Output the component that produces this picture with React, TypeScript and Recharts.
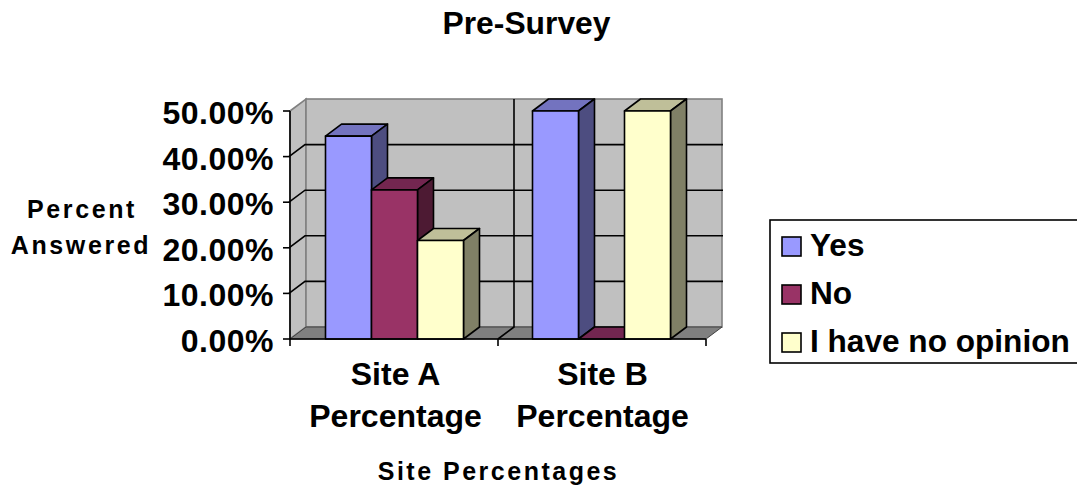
import { BarChart, Bar, XAxis, YAxis, ReferenceArea, ReferenceLine } from "recharts";

const categories = ["Site A Percentage", "Site B Percentage"];
const yesValues = [44.5, 50];
const noValues = [32.7, 0];
const opinionValues = [21.6, 50];
const yTicks = [0, 10, 20, 30, 40, 50];
const gridTicks = [10, 20, 30, 40];

const seriesNames = ["Yes", "No", "I have no opinion"];
const FONT = '"Liberation Sans", Arial, sans-serif';

// faux 3D depth of the box and bars
const DX = 16;
const DY = 12;

const palette: Record<string, { front: string; top: string; side: string }> = {
  Yes: { front: "#9999FF", top: "#7373BF", side: "#4D4D80" },
  No: { front: "#993366", top: "#732650", side: "#4D1A33" },
  "I have no opinion": { front: "#FFFFCC", top: "#BFBF99", side: "#808066" },
};

const data = categories.map((name, i) => ({
  name,
  Yes: yesValues[i],
  No: noValues[i],
  "I have no opinion": opinionValues[i],
}));

const Bar3D = (props: any) => {
  const { x, y, width, height, dataKey } = props;
  const c = palette[dataKey];
  const r = x + width;
  const b = y + height;
  return (
    <g stroke="#000" strokeWidth={1.6} strokeLinejoin="round">
      <polygon
        points={`${x},${y} ${x + DX},${y - DY} ${r + DX},${y - DY} ${r},${y}`}
        fill={c.top}
      />
      <polygon
        points={`${r},${y} ${r + DX},${y - DY} ${r + DX},${b - DY} ${r},${b}`}
        fill={c.side}
      />
      {height > 0 && <rect x={x} y={y} width={width} height={height} fill={c.front} />}
    </g>
  );
};

// back wall, side wall, floor, category divider and the boundary ticks
const Walls = (props: any) => {
  const { y, height } = props;
  // the band scale is inset by the axis padding, the box spans the full axis line
  const x = props.x - AXIS_PAD;
  const width = props.width + AXIS_PAD * 2;
  const r = x + width;
  const b = y + height;
  const mid = x + width / 2;
  return (
    <g>
      <polygon
        points={`${x},${y} ${x + DX},${y - DY} ${x + DX},${b - DY} ${x},${b}`}
        fill="#C0C0C0"
        stroke="#808080"
        strokeWidth={1.6}
      />
      <rect
        x={x + DX}
        y={y - DY}
        width={width}
        height={height}
        fill="#C0C0C0"
        stroke="#808080"
        strokeWidth={1.6}
      />
      <polygon
        points={`${x},${b} ${x + DX},${b - DY} ${r + DX},${b - DY} ${r},${b}`}
        fill="#808080"
        stroke="#404040"
        strokeWidth={1}
      />
      <polyline
        points={`${mid},${b} ${mid + DX},${b - DY} ${mid + DX},${y - DY}`}
        fill="none"
        stroke="#000"
        strokeWidth={1.6}
      />
      {[x, mid, r].map((tx) => (
        <line key={tx} x1={tx} x2={tx} y1={b} y2={b + 7} stroke="#000" strokeWidth={1.6} />
      ))}
    </g>
  );
};

const AXIS_PAD = 1;

// gridline that runs up the side wall and across the back wall
const GridLine3D = (props: any) => {
  const { x1, x2, y1 } = props;
  return (
    <polyline
      points={`${x1 - AXIS_PAD},${y1} ${x1 - AXIS_PAD + DX},${y1 - DY} ${x2 + AXIS_PAD + DX},${y1 - DY}`}
      fill="none"
      stroke="#000"
      strokeWidth={1.6}
    />
  );
};

const CategoryTick = (props: any) => {
  const { x, y, payload } = props;
  const words = String(payload.value).split(" ");
  const first = words.slice(0, 2).join(" ");
  const second = words.slice(2).join(" ");
  return (
    <text textAnchor="middle" fontFamily={FONT} fontWeight="bold" fontSize={32} fill="#000">
      <tspan x={x + 1} y={y + 38}>
        {first}
      </tspan>
      <tspan x={x + 1} y={y + 80}>
        {second}
      </tspan>
    </text>
  );
};

const ValueTick = (props: any) => {
  const { x, y, payload } = props;
  return (
    <text
      x={x}
      y={y + 13}
      textAnchor="end"
      fontFamily={FONT}
      fontWeight="bold"
      fontSize={32}
      letterSpacing={0.5}
      fill="#000"
    >
      {`${Number(payload.value).toFixed(2)}%`}
    </text>
  );
};

const LegendBox = () => {
  const rows = [246.5, 294.5, 342.5];
  return (
    <g>
      <rect x={770} y={220} width={312} height={143} fill="#fff" stroke="#000" strokeWidth={1.6} />
      {seriesNames.map((name, i) => (
        <g key={name}>
          <rect
            x={782}
            y={rows[i] - 9.5}
            width={19}
            height={19}
            fill={palette[name].front}
            stroke="#000"
            strokeWidth={1.6}
          />
          <text
            x={810}
            y={rows[i] + 9.5}
            fontFamily={FONT}
            fontWeight="bold"
            fontSize={31.6}
            fill="#000"
          >
            {name}
          </text>
        </g>
      ))}
    </g>
  );
};

export default function App() {
  return (
    <div style={{ position: "absolute", left: 0, top: 0, background: "#fff" }}>
      <BarChart
        width={1077}
        height={488}
        data={data}
        margin={{ top: 111, right: 371, bottom: 49, left: 200 }}
        barCategoryGap={34.5}
        barGap={0}
      >
        <XAxis
          dataKey="name"
          padding={{ left: AXIS_PAD, right: AXIS_PAD }}
          axisLine={{ stroke: "#000", strokeWidth: 1.6 }}
          tickLine={false}
          tick={CategoryTick}
          interval={0}
          height={100}
        />
        <YAxis
          domain={[0, 50]}
          ticks={yTicks}
          interval={0}
          width={90}
          tickSize={7}
          tickMargin={9}
          axisLine={{ stroke: "#000", strokeWidth: 1.6 }}
          tickLine={{ stroke: "#000", strokeWidth: 1.6 }}
          tick={ValueTick}
        />
        <ReferenceArea y1={0} y2={50} shape={Walls} ifOverflow="visible" zIndex={-1} />
        {gridTicks.map((t) => (
          <ReferenceLine key={t} y={t} shape={GridLine3D} ifOverflow="visible" zIndex={-1} />
        ))}
        <Bar dataKey="Yes" shape={Bar3D} isAnimationActive={false} />
        <Bar dataKey="No" shape={Bar3D} isAnimationActive={false} />
        <Bar dataKey="I have no opinion" shape={Bar3D} isAnimationActive={false} />

        <text x={526.5} y={34} textAnchor="middle" fontFamily={FONT} fontWeight="bold" fontSize={31.8} fill="#000">
          Pre-Survey
        </text>
        <text textAnchor="middle" fontFamily={FONT} fontWeight="bold" fontSize={25} letterSpacing={2.6} fill="#000">
          <tspan x={82} y={218}>Percent</tspan>
          <tspan x={81} y={254}>Answered</tspan>
        </text>
        <text x={498.5} y={480} textAnchor="middle" fontFamily={FONT} fontWeight="bold" fontSize={25} letterSpacing={2.5} fill="#000">
          Site Percentages
        </text>
        <LegendBox />
      </BarChart>
    </div>
  );
}
